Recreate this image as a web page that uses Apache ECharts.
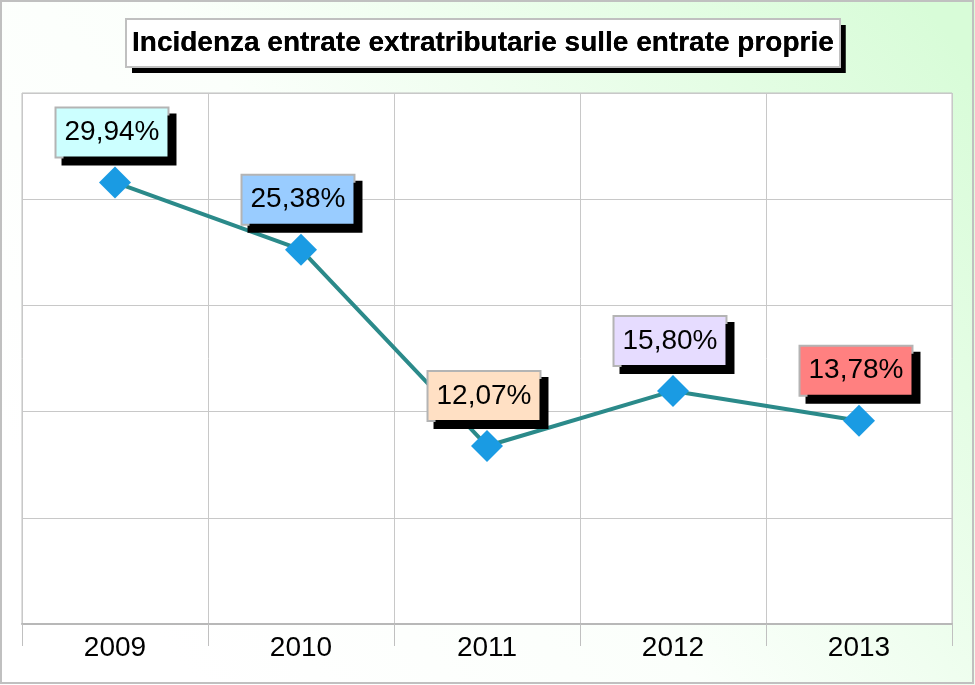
<!DOCTYPE html>
<html>
<head>
<meta charset="utf-8">
<script src="https://cdn.jsdelivr.net/npm/echarts@6/dist/echarts.min.js"></script>
<style>
html,body{margin:0;padding:0;background:#fff;}
#chart{width:975px;height:685px;}
</style>
</head>
<body>
<div id="chart"></div>
<script>
var titleText = 'Incidenza entrate extratributarie sulle entrate proprie';
var categories = ['2009', '2010', '2011', '2012', '2013'];
var values = [29.94, 25.38, 12.07, 15.80, 13.78];
var labelColors = ['#ccffff', '#99ccff', '#ffe0c4', '#e6dcff', '#ff8080'];

var chart = echarts.init(document.getElementById('chart'), null, {renderer: 'canvas'});

var seriesData = values.map(function (v, i) {
  return {
    value: v,
    label: { backgroundColor: labelColors[i] }
  };
});

var titleFont = {
  fontFamily: 'Liberation Sans, Arial, sans-serif',
  fontWeight: 'bold',
  fontSize: 28,
  lineHeight: 32,
  color: '#000000'
};

var option = {
  animation: false,
  backgroundColor: {
    type: 'linear', x: 0.2, y: 1, x2: 1, y2: 0.1,
    colorStops: [
      {offset: 0, color: '#ffffff'},
      {offset: 0.4, color: '#fbfffb'},
      {offset: 1, color: '#d8fcd8'}
    ]
  },
  title: [{
    text: titleText,
    left: 126,
    top: 19,
    padding: [8, 6, 8, 6],
    backgroundColor: '#ffffff',
    borderWidth: 0,
    shadowColor: '#000000',
    shadowBlur: 0,
    shadowOffsetX: 6,
    shadowOffsetY: 6,
    textStyle: titleFont
  }, {
    text: titleText,
    left: 126,
    top: 19,
    padding: [8, 6, 8, 6],
    backgroundColor: 'transparent',
    borderColor: '#c0c0c0',
    borderWidth: 2,
    textStyle: titleFont
  }],
  grid: {
    left: 22, right: 23, top: 93, bottom: 61,
    show: true,
    backgroundColor: '#ffffff',
    borderColor: '#c0c0c0',
    borderWidth: 1,
    containLabel: false
  },
  xAxis: {
    type: 'category',
    data: categories,
    boundaryGap: true,
    axisLine: { show: true, lineStyle: { color: '#b8b8b8', width: 2 } },
    axisTick: { show: true, length: 22, alignWithLabel: false, lineStyle: { color: '#c0c0c0', width: 1 } },
    splitLine: { show: true, lineStyle: { color: '#c8c8c8', width: 1 } },
    axisLabel: {
      margin: 10,
      fontFamily: 'Liberation Sans, Arial, sans-serif',
      fontSize: 28,
      color: '#000000'
    }
  },
  yAxis: {
    type: 'value',
    min: 0, max: 36, interval: 7.2,
    axisLine: { show: false },
    axisTick: { show: false },
    axisLabel: { show: false },
    splitLine: { show: true, lineStyle: { color: '#c8c8c8', width: 1 } }
  },
  series: [{
    type: 'line',
    data: seriesData,
    symbol: 'diamond',
    symbolSize: 32,
    lineStyle: { color: '#2b8a8a', width: 4 },
    itemStyle: { color: '#1a9be3', borderColor: '#1a9be3', borderWidth: 0 },
    label: {
      show: true,
      position: 'top',
      distance: 10,
      offset: [-3, 0],
      formatter: function (p) { return p.value.toFixed(2).replace('.', ',') + '%'; },
      fontFamily: 'Liberation Sans, Arial, sans-serif',
      fontSize: 28,
      lineHeight: 32,
      color: '#000000',
      padding: [8, 8, 8, 8],
      borderColor: '#b4b4b4',
      borderWidth: 2,
      shadowColor: '#000000',
      shadowBlur: 0,
      shadowOffsetX: 7,
      shadowOffsetY: 7
    }
  }],
  graphic: [{
    type: 'rect',
    shape: { x: 1, y: 1, width: 972, height: 682 },
    style: { fill: 'none', stroke: '#c0c0c0', lineWidth: 2 },
    z: 100
  }]
};

chart.setOption(option);
</script>
</body>
</html>
